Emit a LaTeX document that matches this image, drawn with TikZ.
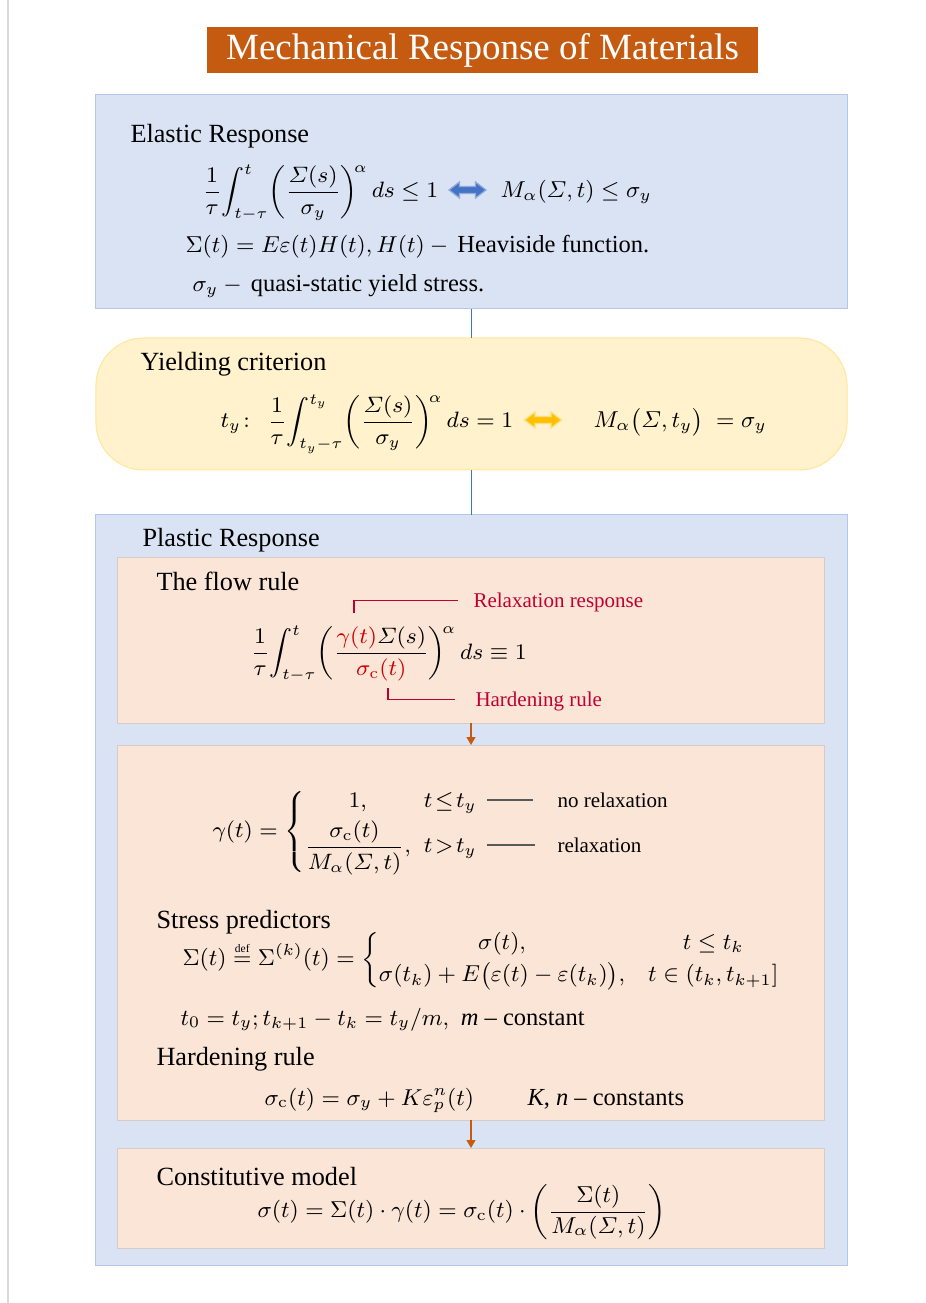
\RequirePackage{fix-cm}
\documentclass[tikz,border=0pt]{standalone}
\usepackage{amsmath,amssymb}
\usepackage[no-math]{fontspec}
\setmainfont{Liberation Serif}
\usetikzlibrary{arrows.meta}
\definecolor{titlebg}{HTML}{C55A11}
\definecolor{bluebg}{HTML}{DAE3F3}
\definecolor{blueln}{HTML}{B4C7E7}
\definecolor{yelbg}{HTML}{FFF2CC}
\definecolor{yelln}{HTML}{FFE699}
\definecolor{peachbg}{HTML}{FBE5D6}
\definecolor{peachln}{HTML}{D4CCC6}
\definecolor{conblue}{HTML}{4472C4}
\definecolor{conorange}{HTML}{C55A11}
\definecolor{labred}{HTML}{C00030}
\definecolor{mathred}{HTML}{D00000}
\definecolor{arrblue}{HTML}{4472C4}
\definecolor{arryel}{HTML}{FFC000}
\definecolor{dashgray}{HTML}{595959}
\newcommand\ftitle{\fontsize{14.8}{17}\selectfont}
\newcommand\fbody{\fontsize{10.5}{12.5}\selectfont}
\newcommand\fline{\fontsize{9.8}{11.5}\selectfont}
\newcommand\fmath{\fontsize{9.2}{11}\selectfont}
\newcommand\fmathb{\fontsize{8.9}{10.6}\selectfont}
\newcommand\fsmall{\fontsize{8.4}{10}\selectfont}
\newcommand\dblarrow[4]{%
 \filldraw[fill=#3,draw=#4,line width=0.5pt] ({#1-18.5},#2) -- ({#1-8},{#2-8}) -- ({#1-8},{#2-3.5}) -- ({#1+8},{#2-3.5}) -- ({#1+8},{#2-8}) -- ({#1+18.5},#2) -- ({#1+8},{#2+8}) -- ({#1+8},{#2+3.5}) -- ({#1-8},{#2+3.5}) -- ({#1-8},{#2+8}) -- cycle;}
\begin{document}
\begin{tikzpicture}[x=0.4pt,y=-0.4pt,
  box/.style={inner sep=0pt,outer sep=0pt,line width=0.4pt},
  txt/.style={font=\fbody,inner sep=0pt,anchor=base west},
  mth/.style={font=\fmath,inner sep=0pt},
  mthb/.style={font=\fmathb,inner sep=0pt},
  lab/.style={font=\fsmall,inner sep=0pt,anchor=base west},
  conline/.style={draw=conblue,line width=0.5pt},
  conarrow/.style={draw=conorange,line width=0.5pt,-{Triangle[width=3.6pt,length=3.2pt]}},
  redline/.style={draw=labred,line width=0.45pt},
  dashln/.style={draw=dashgray,line width=0.6pt}]
\useasboundingbox[fill=white] (0,0) rectangle (925,1303);
\draw[draw=black!15,line width=0.8pt] (7.5,0) -- (7.5,1303);
% title
\node[box,fill=titlebg,minimum width=220.4pt,minimum height=18.4pt,text=white,font=\ftitle] (title) at (482.5,50) {Mechanical Response of Materials};
% boxes
\node[box,fill=bluebg,draw=blueln,minimum width=300.4pt,minimum height=85.6pt] (elastic) at (471.5,202) {};
\node[box,fill=yelbg,draw=yelln,rounded corners=19pt,minimum width=300.4pt,minimum height=52.8pt] (yield) at (471.5,404) {};
\node[box,fill=bluebg,draw=blueln,minimum width=300.4pt,minimum height=300pt] (plastic) at (471.5,890) {};
\node[box,fill=peachbg,draw=peachln,minimum width=282.4pt,minimum height=66pt] (flow) at (471,640.5) {};
\node[box,fill=peachbg,draw=peachln,minimum width=282.4pt,minimum height=150pt] (mid) at (471,932.5) {};
\node[box,fill=peachbg,draw=peachln,minimum width=282.4pt,minimum height=40pt] (const) at (471,1198) {};
% connectors
\draw[conline] (elastic.south) -- (yield.north);
\draw[conline] (yield.south) -- (plastic.north);
\draw[conarrow] (flow.south) -- (mid.north);
\draw[conarrow] (mid.south) -- (const.north);
% elastic content
\node[txt] (eltitle) at (130,143) {Elastic Response};
\node[mthb,anchor=base west] (eq1) at (202,198) {$\displaystyle\frac{1}{\tau}\!\int_{t-\tau}^{t}\!\left(\frac{\varSigma(s)}{\sigma_y}\right)^{\!\alpha} ds \le 1$};
\dblarrow{467.5}{190}{arrblue}{arrblue!60}
\node[mth,anchor=base west] (eq1b) at (500,198) {$M_\alpha(\varSigma,t)\le\sigma_y$};
\node[mth,anchor=base west] (eq2) at (185,253) {$\Sigma(t)=E\varepsilon(t)H(t), H(t) -{}$\,{\fline Heaviside function.}};
\node[mth,anchor=base west] (eq3) at (192,292) {$\sigma_y -{}$\,{\fline quasi-static yield stress.}};
% yield content
\node[txt] (yltitle) at (140,371) {Yielding criterion};
\node[mthb,anchor=base west] (eqy) at (220,428) {$t_y\!:\ \ \displaystyle\frac{1}{\tau}\!\int_{t_y-\tau}^{t_y}\!\left(\frac{\varSigma(s)}{\sigma_y}\right)^{\!\alpha} ds = 1$};
\dblarrow{543}{420}{arryel}{arryel!50}
\node[mth,anchor=base west] (eqyb) at (593,428) {$M_\alpha\big(\varSigma,t_y\big)\;=\sigma_y$};
% plastic
\node[txt] (pltitle) at (142,546) {Plastic Response};
\node[txt] (flowtitle) at (156,591) {The flow rule};
\node[mthb,anchor=base west] (eqf) at (250,659) {$\displaystyle\frac{1}{\tau}\!\int_{t-\tau}^{t}\!\left(\frac{{\color{mathred}\gamma(t)}\varSigma(s)}{{\color{mathred}\sigma_{\mathrm{c}}(t)}}\right)^{\!\alpha} ds \equiv 1$};
\node[lab,text=labred] (relax) at (473,607) {Relaxation response};
\node[lab,text=labred] (hard) at (475,706) {Hardening rule};
\coordinate (relaxend) at (354,613);
\coordinate (hardend) at (388,688);
\draw[redline] (relaxend) |- ([xshift=-6pt,yshift=2.6pt]relax.base west);
\draw[redline] (hardend) |- ([xshift=-8pt,yshift=2.6pt]hard.base west);
% mid box
\node[mthb,anchor=west] (gam) at (212,832) {$\gamma(t)=\left\{\begin{array}{@{}c@{\;\;}l@{}} 1, & t\mkern2mu{\le}\mkern2mu t_y\\[2pt] \dfrac{\sigma_{\mathrm{c}}(t)}{M_\alpha(\varSigma,t)}, & t\mkern2mu{>}\mkern2mu t_y\end{array}\right.$};
\node[lab] (norel) at (557,807) {no relaxation};
\node[lab] (rel) at (557,852) {relaxation};
\draw[dashln] ([xshift=-9.6pt,yshift=2.8pt]norel.base west) -- ++(-46,0);
\draw[dashln] ([xshift=-8.8pt,yshift=2.8pt]rel.base west) -- ++(-48,0);
\node[txt] (sptitle) at (156,928) {Stress predictors};
\node[mth,anchor=west] (speq) at (182,960) {$\Sigma(t)\stackrel{\scriptscriptstyle\text{def}}{=}\Sigma^{(k)}(t)=\left\{\begin{array}{@{}c@{\quad}c@{}}\sigma(t), & t\le t_k\\[2pt] \sigma(t_k)+E\big(\varepsilon(t)-\varepsilon(t_k)\big), & t\in(t_k,t_{k+1}]\end{array}\right.$};
\node[mth,anchor=base west] (tk) at (180,1025) {$t_0=t_y; t_{k+1}-t_k=t_y/m,$\ \ {\fline\textit{m} – constant}};
\node[txt] (hrtitle) at (156,1065) {Hardening rule};
\node[mth,anchor=base west] (hreq) at (264,1105) {$\sigma_{\mathrm{c}}(t)=\sigma_y+K\varepsilon^n_p(t)$};
\node[txt,font=\fline] (hrk) at (527,1105) {\textit{K}, \textit{n} – constants};
% constitutive
\node[txt] (cmtitle) at (156,1185) {Constitutive model};
\node[mth,anchor=west] (cmeq) at (257,1212) {$\sigma(t)=\Sigma(t)\cdot\gamma(t)=\sigma_{\mathrm{c}}(t)\cdot\left(\dfrac{\Sigma(t)}{M_\alpha(\varSigma,t)}\right)$};
\end{tikzpicture}
\end{document}
